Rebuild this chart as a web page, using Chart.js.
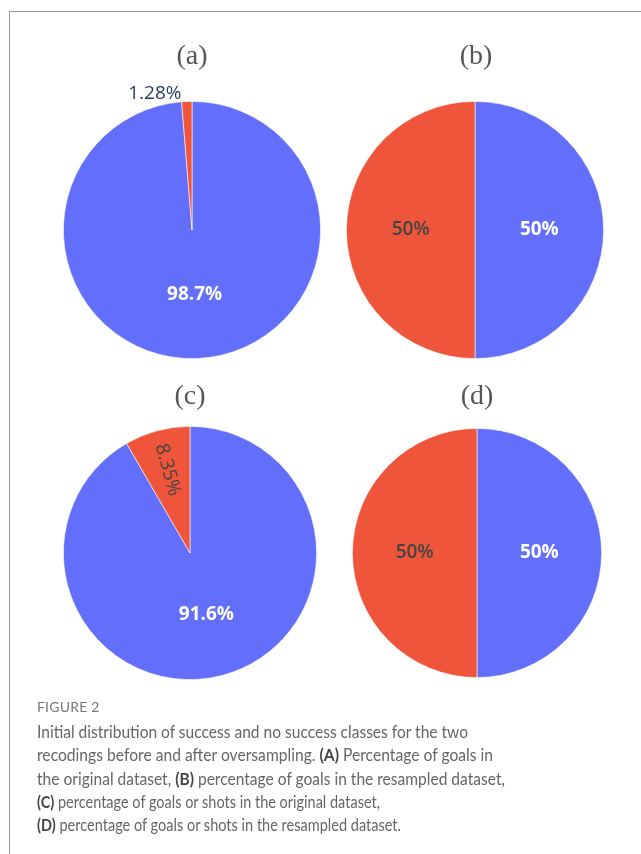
<!DOCTYPE html>
<html>
<head>
<meta charset="utf-8">
<script src="https://cdn.jsdelivr.net/npm/chart.js@4.4.1/dist/chart.umd.min.js"></script>
<style>
  html, body { margin: 0; padding: 0; background: #fff; }
  body { width: 641px; height: 854px; position: relative; overflow: hidden; }
  #frame { position: absolute; left: 9px; top: 11px; width: 700px; height: 900px;
           border-left: 1.5px solid #9a9a9a; border-top: 1.5px solid #9a9a9a; }
  .panel { position: absolute; }
  .ptitle { position: absolute; font-family: "Liberation Serif", "DejaVu Serif", serif;
            font-size: 28px; color: #555; transform: translateX(-50%); white-space: nowrap; line-height: 1; }
  #caption { position: absolute; left: 37px; top: 698px; font-family: Lato, "Open Sans", sans-serif; color: #666; }
  #caption .fig { font-size: 14px; letter-spacing: 0.2px; color: #777; height: 22px; line-height: 18px; }
  #caption .ln { font-size: 17.5px; line-height: 23.3px; white-space: nowrap; transform-origin: left center; }
  #caption b { color: #444; font-weight: 700; }
</style>
</head>
<body>
<div id="frame"></div>
<div id="charts"></div>
<div id="caption">
  <div class="fig">FIGURE 2</div>
  <div class="ln" data-w="431">Initial distribution of success and no success classes for the two</div>
  <div class="ln" data-w="456">recodings before and after oversampling. <b>(A)</b> Percentage of goals in</div>
  <div class="ln" data-w="468">the original dataset, <b>(B)</b> percentage of goals in the resampled dataset,</div>
  <div class="ln" data-w="343"><b>(C)</b> percentage of goals or shots in the original dataset,</div>
  <div class="ln" data-w="364"><b>(D)</b> percentage of goals or shots in the resampled dataset.</div>
</div>
<script>
// ---- data ----
const panelTitles = ['(a)', '(b)', '(c)', '(d)'];
const classLabels = ['No success', 'Success'];
const noSuccessPct = [98.72, 50, 91.64, 50];
const successPct   = [1.28, 50, 8.35, 50];

// ---- layout (positions only) ----
const layout = [
  { cx: 192, cy: 229.5, r: 129, tx: 192, ty: 41 },
  { cx: 475, cy: 229.5, r: 129, tx: 476, ty: 41 },
  { cx: 189.5, cy: 553, r: 127, tx: 190, ty: 381 },
  { cx: 477, cy: 552.5, r: 125, tx: 477, ty: 381 }
];
const PAD = 40;
const sliceColors = ['#636efa', '#EF553B'];

function fmtPct(v) {
  let s = Number(v).toPrecision(3);
  if (s.indexOf('.') >= 0) s = s.replace(/0+$/, '').replace(/\.$/, '');
  return s + '%';
}

const labelPlugin = {
  id: 'pieLabels',
  afterDatasetsDraw(chart) {
    const ctx = chart.ctx;
    const meta = chart.getDatasetMeta(0);
    const data = chart.data.datasets[0].data;
    const total = data.reduce((a, b) => a + b, 0);
    meta.data.forEach((arc, i) => {
      const p = arc.getProps(['x', 'y', 'startAngle', 'endAngle', 'outerRadius'], true);
      const pct = data[i] / total * 100;
      const mid = (p.startAngle + p.endAngle) / 2;
      const txt = fmtPct(data[i]);
      const white = i === 0;
      ctx.save();
      ctx.textBaseline = 'middle';
      if (pct < 3) {
        const rr = p.outerRadius + 8;
        const ax = p.x + Math.cos(mid) * rr;
        const ay = p.y + Math.sin(mid) * rr;
        ctx.font = '400 19px "Open Sans", sans-serif';
        ctx.fillStyle = '#2a3f5f';
        ctx.textAlign = 'right';
        ctx.fillText(txt, ax - 5, ay);
      } else if (pct < 20) {
        const rr = p.outerRadius * 0.68;
        const ax = p.x + Math.cos(mid) * rr;
        const ay = p.y + Math.sin(mid) * rr;
        ctx.translate(ax, ay);
        ctx.rotate(mid + Math.PI);
        ctx.font = '400 19px "Open Sans", sans-serif';
        ctx.fillStyle = white ? '#ffffff' : '#444444';
        ctx.textAlign = 'center';
        ctx.fillText(txt, 0, 0);
      } else {
        const pos = arc.tooltipPosition(true);
        ctx.font = (white ? '700' : '600') + ' 19px "Open Sans", sans-serif';
        ctx.fillStyle = white ? '#ffffff' : '#444444';
        ctx.textAlign = 'center';
        ctx.fillText(txt, pos.x, pos.y);
      }
      ctx.restore();
    });
  }
};

const host = document.getElementById('charts');
panelTitles.forEach((title, k) => {
  const L = layout[k];
  const size = 2 * L.r + 2 * PAD;
  const div = document.createElement('div');
  div.className = 'panel';
  div.style.left = (L.cx - size / 2) + 'px';
  div.style.top = (L.cy - size / 2) + 'px';
  div.style.width = size + 'px';
  div.style.height = size + 'px';
  const cv = document.createElement('canvas');
  div.appendChild(cv);
  host.appendChild(div);

  const t = document.createElement('div');
  t.className = 'ptitle';
  t.style.left = L.tx + 'px';
  t.style.top = L.ty + 'px';
  t.textContent = title;
  host.appendChild(t);

  new Chart(cv, {
    type: 'pie',
    data: {
      labels: classLabels,
      datasets: [{
        data: [noSuccessPct[k], successPct[k]],
        backgroundColor: sliceColors,
        borderColor: 'rgba(255,255,255,0.7)',
        borderWidth: 0.8
      }]
    },
    options: {
      responsive: true,
      maintainAspectRatio: false,
      animation: false,
      layout: { padding: PAD },
      plugins: { legend: { display: false }, tooltip: { enabled: false } }
    },
    plugins: [labelPlugin]
  });
});

document.querySelectorAll('#caption .ln').forEach(el => {
  const target = parseFloat(el.dataset.w);
  el.style.display = 'inline-block';
  const w2 = el.getBoundingClientRect().width;
  el.style.transform = 'scaleX(' + (target / w2) + ')';
  el.style.display = 'block';
});
</script>
</body>
</html>
